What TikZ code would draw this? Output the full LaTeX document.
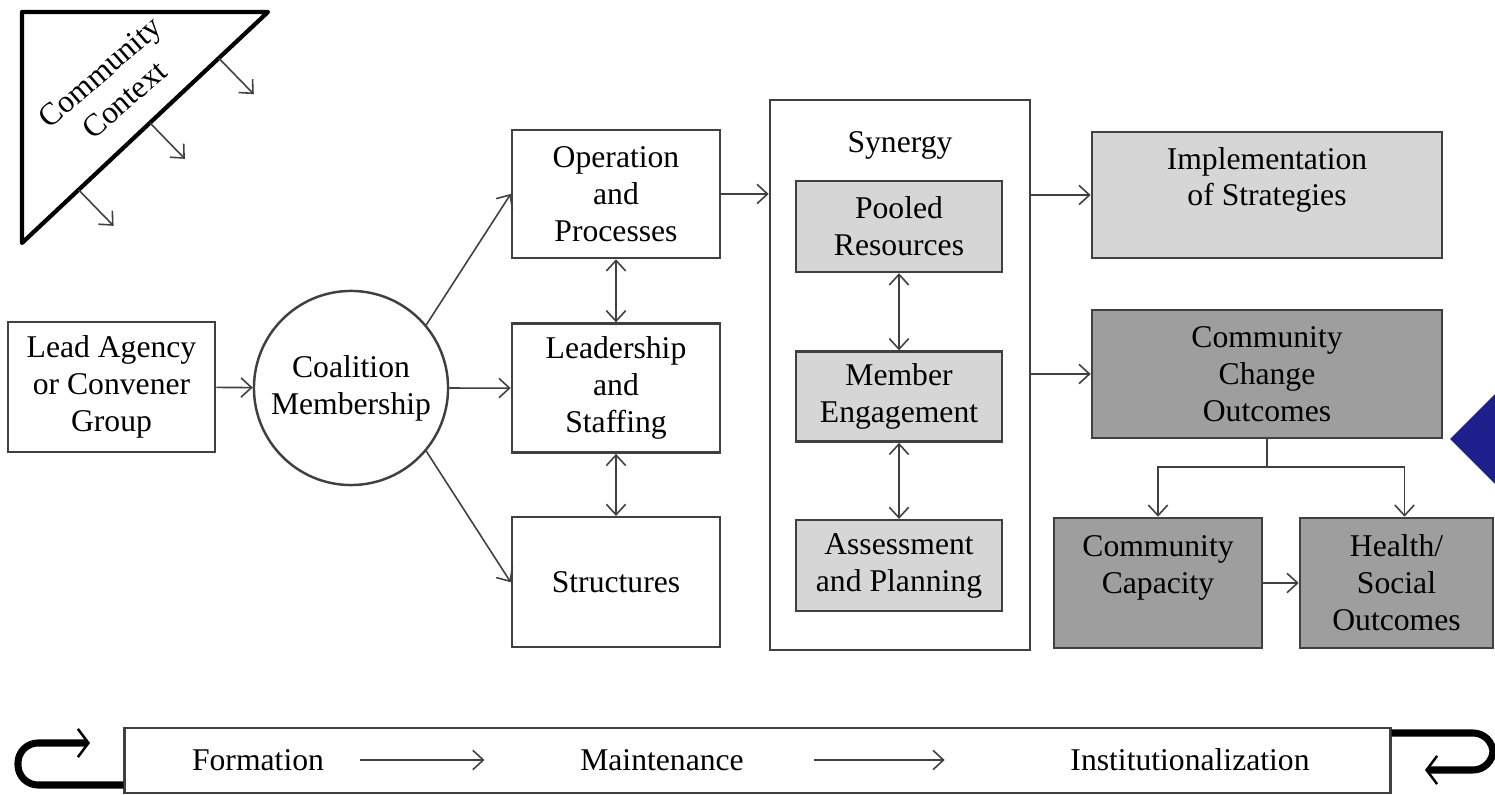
\documentclass[tikz,border=0pt]{standalone}
\usepackage{fontspec}
\setmainfont{Liberation Serif}
\usetikzlibrary{arrows.meta, positioning, calc}
\definecolor{playblue}{RGB}{30,30,140}

\begin{document}
\begin{tikzpicture}[x=0.01cm, y=-0.01cm, node distance=1.94cm,
  >={Straight Barb[length=3pt,width=5.5pt]},
  box/.style={draw=black!75, line width=0.7pt, align=center, inner sep=0pt,
    font=\fontsize{9}{10.5}\selectfont},
  lightbox/.style={box, fill=black!16},
  darkbox/.style={box, fill=black!38},
  plain/.style={font=\fontsize{9}{10.5}\selectfont, inner sep=0pt},
  link/.style={->, draw=black!75, line width=0.45pt},
  cycleline/.style={line width=2pt, rounded corners=0.2cm,
    -{Straight Barb[length=3pt,width=8pt,line width=0.7pt]}}]
  \useasboundingbox (0,0) rectangle (1495,795);

  \draw[line width=1.2pt, line join=round] (22,12) coordinate (CtxTop) -- (268,12) coordinate (CtxRight)
    -- (22,243) coordinate (CtxBot) -- cycle;
  \node (Ctx) [plain, align=center, rotate=41] at (112,86) {Community\\Context};
  \foreach \t/\n in {0.2/A, 0.48/B, 0.77/C} {
    \coordinate (Ctx\n) at ($(CtxRight)!\t!(CtxBot)$);
    \coordinate (CtxEnd\n) at ($(Ctx\n)+(35,36)$);
    \draw[link] (Ctx\n) -- (CtxEnd\n);
  }

  \node (Lead) [box, minimum width=2.07cm, minimum height=1.30cm] at (111.5,387) {Lead Agency\\or Convener\\Group};
  \node (Coal) [box, circle, minimum size=1.94cm] at (351,388) {Coalition\\Membership};
  \node (Ops) [box, minimum width=2.08cm, minimum height=1.28cm] at (616,194) {Operation\\and\\Processes};
  \node (Lship) [box, minimum width=2.08cm, minimum height=1.29cm, below of=Ops] {Leadership\\and\\Staffing};
  \node (Struct) [box, minimum width=2.08cm, minimum height=1.30cm, below of=Lship] {Structures};

  \node (Syn) [box, minimum width=2.60cm, minimum height=5.50cm] at (900,375) {};
  \node (SynLabel) [plain] at (900,145) {Synergy};
  \node (Pool) [lightbox, minimum width=2.06cm, minimum height=0.91cm] at (899,226.5) {Pooled\\Resources};
  \node (Member) [lightbox, minimum width=2.06cm, minimum height=0.90cm, below of=Pool, node distance=1.70cm] {Member\\Engagement};
  \node (Assess) [lightbox, minimum width=2.06cm, minimum height=0.91cm, below of=Member, node distance=1.69cm] {Assessment\\and Planning};

  \node (Impl) [lightbox, minimum width=3.50cm, minimum height=1.26cm] at (1267,195) {Implementation\\of Strategies\\~};
  \node (Change) [darkbox, minimum width=3.50cm, minimum height=1.28cm] at (1267,374) {Community\\Change\\Outcomes};
  \node (Cap) [darkbox, minimum width=2.08cm, minimum height=1.30cm] at (1158,583) {Community\\Capacity\\~};
  \node (Health) [darkbox, minimum width=1.93cm, minimum height=1.30cm] at (1396.5,583) {Health/\\Social\\Outcomes};

  \draw[link] (Lead) -- (Coal);
  \draw[link] (Coal.40) -- (Ops.west);
  \draw[link] (Coal) -- (Lship);
  \draw[link] (Coal.-40) -- (Struct.west);
  \draw[link, <->] (Ops) -- (Lship);
  \draw[link, <->] (Lship) -- (Struct);
  \draw[link] (Ops) -- (Ops -| Syn.west);
  \draw[link, <->] (Pool) -- (Member);
  \draw[link, <->] (Member) -- (Assess);
  \draw[link] (Syn.east |- Impl) -- (Impl);
  \draw[link] (Syn.east |- Change.west) -- (Change.west);
  \coordinate (Split) at ($(Change.south)+(0,28)$);
  \draw[draw=black!75, line width=0.45pt] (Change.south) -- (Split);
  \draw[link] (Split) -| (Cap.north);
  \draw[link] (Split) -| ([xshift=0.08cm]Health.north);
  \draw[link] (Cap) -- (Health);

  \node (Bar) [box, minimum width=12.65cm, minimum height=0.65cm] at (757.5,760.5) {};
  \node (Form) [plain] at (258,760) {Formation};
  \node (Maint) [plain] at (662,760) {Maintenance};
  \node (Inst) [plain] at (1190,760) {Institutionalization};
  \draw[link, shorten <=0.35cm, shorten >=0.95cm] (Form) -- (Maint);
  \draw[link, shorten <=0.7cm, shorten >=1.25cm] (Maint) -- (Inst);

  \coordinate (LoopL) at (90,743);
  \coordinate (LoopR) at (1425,770);
  \draw[cycleline] (Bar.west |- 0,785) -- (18,785) -- (18,743) -- (LoopL);
  \draw[cycleline] (Bar.east |- 0,733) -- (1493,733) -- (1493,770) -- (LoopR);

  \fill[playblue] (1450,439) -- (1495,394) -- (1495,484) -- cycle;
\end{tikzpicture}
\end{document}
